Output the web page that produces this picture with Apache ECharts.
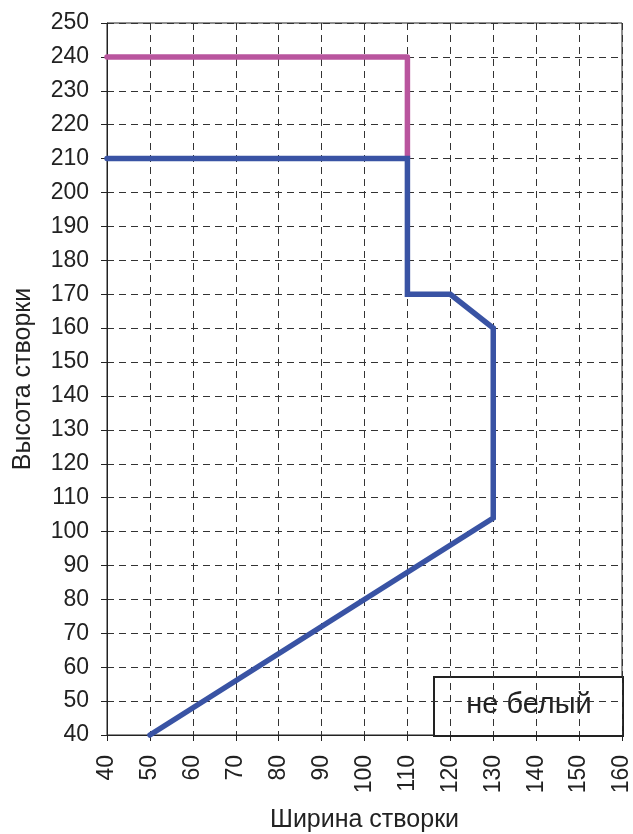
<!DOCTYPE html>
<html>
<head>
<meta charset="utf-8">
<script src="https://cdn.jsdelivr.net/npm/echarts@6/dist/echarts.min.js"></script>
<style>
html,body{margin:0;padding:0;background:#fff;}
#chart{width:633px;height:834px;}
</style>
</head>
<body>
<div id="chart"></div>
<script>
// точки линий (ширина, высота)
var blueX = [50, 130, 130, 120, 110, 110, 40];
var blueY = [40, 104, 160, 170, 170, 210, 210];
var pinkX = [40, 110, 110];
var pinkY = [240, 240, 210];
var xTicks = [40, 160, 10];
var yTicks = [40, 250, 10];
var boxText = 'не белый';

function pairs(xs, ys){
	var res = [];
	for(var i=0;i<xs.length;i++){
		res.push([xs[i], ys[i]]);
	}
	return res;
}

var myChart = echarts.init(document.getElementById('chart'));
var font = 'Liberation Sans, Arial, sans-serif';
var option = {
	animation: false,
	grid: {
		left: 107, top: 23, right: 11, bottom: 99,
		outerBoundsMode: 'none',
		containLabel: false,
		show: true, borderColor: '#222', borderWidth: 1, backgroundColor: '#fff'
	},
	xAxis: {
		type: 'value',
		min: xTicks[0], max: xTicks[1], interval: xTicks[2],
		name: 'Ширина створки',
		nameLocation: 'middle',
		nameGap: 73,
		nameTextStyle: {fontFamily: font, fontSize: 25, color: '#222'},
		axisLine: {show: true, onZero: false, lineStyle: {color: '#222', width: 1}},
		axisTick: {show: true, length: 6, lineStyle: {color: '#222'}},
		axisLabel: {rotate: 90, margin: 20, fontFamily: font, fontSize: 23, color: '#222'},
		splitLine: {show: true, lineStyle: {color: '#333', width: 1, type: [7, 5]}}
	},
	yAxis: {
		type: 'value',
		min: yTicks[0], max: yTicks[1], interval: yTicks[2],
		name: 'Высота створки',
		nameLocation: 'middle',
		nameGap: 71,
		nameTextStyle: {fontFamily: font, fontSize: 25, color: '#222'},
		axisLine: {show: true, onZero: false, lineStyle: {color: '#222', width: 1}},
		axisTick: {show: true, length: 6, lineStyle: {color: '#222'}},
		axisLabel: {margin: 18, fontFamily: font, fontSize: 23, color: '#222'},
		splitLine: {show: true, lineStyle: {color: '#333', width: 1, type: [7, 5]}}
	},
	series: [
		{
			type: 'line',
			data: pairs(pinkX, pinkY),
			symbol: 'none',
			clip: false,
			lineStyle: {color: '#b9559e', width: 5.5, cap: 'round', join: 'round'}
		},
		{
			type: 'line',
			data: pairs(blueX, blueY),
			symbol: 'none',
			clip: false,
			lineStyle: {color: '#3953a4', width: 5.5, cap: 'round', join: 'miter'}
		}
	],
	graphic: [
		{
			type: 'group',
			left: 433, top: 676,
			children: [
				{
					type: 'rect',
					shape: {x: 0, y: 0, width: 189, height: 59},
					style: {fill: '#fff', stroke: '#222', lineWidth: 2}
				},
				{
					type: 'text',
					x: 95, y: 28,
					style: {
						text: boxText, fontFamily: font, fontSize: 29, fill: '#222',
						align: 'center', verticalAlign: 'middle'
					}
				}
			]
		}
	]
};
myChart.setOption(option);
</script>
</body>
</html>
